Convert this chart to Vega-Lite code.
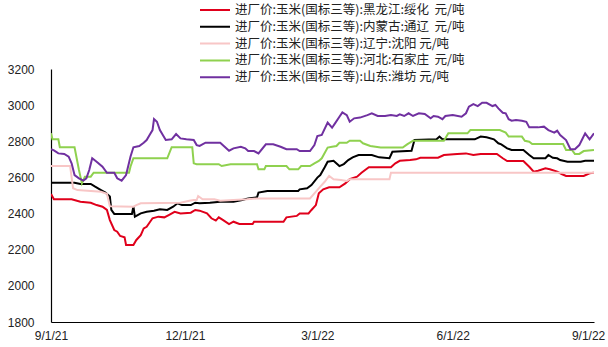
{
  "$schema": "https://vega.github.io/schema/vega-lite/v6.json",
  "width": 543,
  "height": 253,
  "autosize": "none",
  "padding": {"left": 51, "top": 69, "right": 14, "bottom": 25},
  "background": "white",
  "config": {"view": {"stroke": null}},
  "data": {"values": [
    {"d":"2021-09-01","s":"黑龙江:绥化","v":2508},{"d":"2021-09-03","s":"黑龙江:绥化","v":2479},{"d":"2021-09-15","s":"黑龙江:绥化","v":2479},{"d":"2021-09-21","s":"黑龙江:绥化","v":2466},{"d":"2021-09-28","s":"黑龙江:绥化","v":2460},{"d":"2021-10-02","s":"黑龙江:绥化","v":2447},{"d":"2021-10-06","s":"黑龙江:绥化","v":2438},{"d":"2021-10-09","s":"黑龙江:绥化","v":2420},{"d":"2021-10-11","s":"黑龙江:绥化","v":2364},{"d":"2021-10-14","s":"黑龙江:绥化","v":2309},{"d":"2021-10-16","s":"黑龙江:绥化","v":2300},{"d":"2021-10-18","s":"黑龙江:绥化","v":2276},{"d":"2021-10-21","s":"黑龙江:绥化","v":2269},{"d":"2021-10-22","s":"黑龙江:绥化","v":2226},{"d":"2021-10-27","s":"黑龙江:绥化","v":2226},{"d":"2021-10-29","s":"黑龙江:绥化","v":2254},{"d":"2021-11-01","s":"黑龙江:绥化","v":2281},{"d":"2021-11-03","s":"黑龙江:绥化","v":2318},{"d":"2021-11-05","s":"黑龙江:绥化","v":2327},{"d":"2021-11-09","s":"黑龙江:绥化","v":2374},{"d":"2021-11-13","s":"黑龙江:绥化","v":2383},{"d":"2021-11-17","s":"黑龙江:绥化","v":2379},{"d":"2021-11-20","s":"黑龙江:绥化","v":2392},{"d":"2021-11-24","s":"黑龙江:绥化","v":2410},{"d":"2021-11-28","s":"黑龙江:绥化","v":2401},{"d":"2021-12-05","s":"黑龙江:绥化","v":2405},{"d":"2021-12-08","s":"黑龙江:绥化","v":2420},{"d":"2021-12-11","s":"黑龙江:绥化","v":2416},{"d":"2021-12-16","s":"黑龙江:绥化","v":2401},{"d":"2021-12-19","s":"黑龙江:绥化","v":2374},{"d":"2021-12-22","s":"黑龙江:绥化","v":2361},{"d":"2021-12-24","s":"黑龙江:绥化","v":2379},{"d":"2021-12-27","s":"黑龙江:绥化","v":2364},{"d":"2021-12-31","s":"黑龙江:绥化","v":2342},{"d":"2022-01-03","s":"黑龙江:绥化","v":2355},{"d":"2022-01-07","s":"黑龙江:绥化","v":2342},{"d":"2022-01-16","s":"黑龙江:绥化","v":2342},{"d":"2022-01-17","s":"黑龙江:绥化","v":2355},{"d":"2022-02-06","s":"黑龙江:绥化","v":2355},{"d":"2022-02-08","s":"黑龙江:绥化","v":2379},{"d":"2022-02-15","s":"黑龙江:绥化","v":2387},{"d":"2022-02-17","s":"黑龙江:绥化","v":2401},{"d":"2022-02-23","s":"黑龙江:绥化","v":2401},{"d":"2022-02-25","s":"黑龙江:绥化","v":2420},{"d":"2022-02-28","s":"黑龙江:绥化","v":2447},{"d":"2022-03-02","s":"黑龙江:绥化","v":2512},{"d":"2022-03-05","s":"黑龙江:绥化","v":2534},{"d":"2022-03-09","s":"黑龙江:绥化","v":2545},{"d":"2022-03-16","s":"黑龙江:绥化","v":2545},{"d":"2022-03-20","s":"黑龙江:绥化","v":2567},{"d":"2022-03-23","s":"黑龙江:绥化","v":2590},{"d":"2022-03-28","s":"黑龙江:绥化","v":2604},{"d":"2022-03-31","s":"黑龙江:绥化","v":2626},{"d":"2022-04-05","s":"黑龙江:绥化","v":2656},{"d":"2022-04-20","s":"黑龙江:绥化","v":2656},{"d":"2022-04-23","s":"黑龙江:绥化","v":2678},{"d":"2022-04-26","s":"黑龙江:绥化","v":2692},{"d":"2022-05-03","s":"黑龙江:绥化","v":2696},{"d":"2022-05-07","s":"黑龙江:绥化","v":2700},{"d":"2022-05-10","s":"黑龙江:绥化","v":2709},{"d":"2022-05-22","s":"黑龙江:绥化","v":2709},{"d":"2022-05-26","s":"黑龙江:绥化","v":2724},{"d":"2022-06-04","s":"黑龙江:绥化","v":2730},{"d":"2022-06-10","s":"黑龙江:绥化","v":2733},{"d":"2022-06-15","s":"黑龙江:绥化","v":2724},{"d":"2022-06-20","s":"黑龙江:绥化","v":2730},{"d":"2022-07-01","s":"黑龙江:绥化","v":2730},{"d":"2022-07-05","s":"黑龙江:绥化","v":2706},{"d":"2022-07-08","s":"黑龙江:绥化","v":2691},{"d":"2022-07-19","s":"黑龙江:绥化","v":2691},{"d":"2022-07-23","s":"黑龙江:绥化","v":2659},{"d":"2022-07-26","s":"黑龙江:绥化","v":2632},{"d":"2022-07-29","s":"黑龙江:绥化","v":2637},{"d":"2022-08-03","s":"黑龙江:绥化","v":2650},{"d":"2022-08-06","s":"黑龙江:绥化","v":2645},{"d":"2022-08-11","s":"黑龙江:绥化","v":2632},{"d":"2022-08-14","s":"黑龙江:绥化","v":2619},{"d":"2022-08-17","s":"黑龙江:绥化","v":2608},{"d":"2022-08-29","s":"黑龙江:绥化","v":2608},{"d":"2022-09-02","s":"黑龙江:绥化","v":2623},{"d":"2022-09-05","s":"黑龙江:绥化","v":2626},

    {"d":"2021-09-01","s":"内蒙古:通辽","v":2571},{"d":"2021-09-17","s":"内蒙古:通辽","v":2571},{"d":"2021-09-21","s":"内蒙古:通辽","v":2564},{"d":"2021-09-28","s":"内蒙古:通辽","v":2564},{"d":"2021-10-01","s":"内蒙古:通辽","v":2549},{"d":"2021-10-05","s":"内蒙古:通辽","v":2530},{"d":"2021-10-08","s":"内蒙古:通辽","v":2516},{"d":"2021-10-11","s":"内蒙古:通辽","v":2494},{"d":"2021-10-12","s":"内蒙古:通辽","v":2420},{"d":"2021-10-14","s":"内蒙古:通辽","v":2398},{"d":"2021-10-26","s":"内蒙古:通辽","v":2398},{"d":"2021-10-27","s":"内蒙古:通辽","v":2440},{"d":"2021-10-28","s":"内蒙古:通辽","v":2383},{"d":"2021-10-29","s":"内蒙古:通辽","v":2387},{"d":"2021-11-01","s":"内蒙古:通辽","v":2401},{"d":"2021-11-05","s":"内蒙古:通辽","v":2410},{"d":"2021-11-10","s":"内蒙古:通辽","v":2416},{"d":"2021-11-14","s":"内蒙古:通辽","v":2424},{"d":"2021-11-19","s":"内蒙古:通辽","v":2420},{"d":"2021-11-23","s":"内蒙古:通辽","v":2438},{"d":"2021-11-26","s":"内蒙古:通辽","v":2457},{"d":"2021-11-29","s":"内蒙古:通辽","v":2447},{"d":"2021-12-05","s":"内蒙古:通辽","v":2447},{"d":"2021-12-08","s":"内蒙古:通辽","v":2460},{"d":"2021-12-11","s":"内蒙古:通辽","v":2457},{"d":"2021-12-18","s":"内蒙古:通辽","v":2460},{"d":"2021-12-25","s":"内蒙古:通辽","v":2466},{"d":"2022-01-03","s":"内蒙古:通辽","v":2466},{"d":"2022-01-09","s":"内蒙古:通辽","v":2475},{"d":"2022-01-13","s":"内蒙古:通辽","v":2484},{"d":"2022-01-19","s":"内蒙古:通辽","v":2490},{"d":"2022-01-20","s":"内蒙古:通辽","v":2516},{"d":"2022-01-26","s":"内蒙古:通辽","v":2525},{"d":"2022-02-16","s":"内蒙古:通辽","v":2525},{"d":"2022-02-17","s":"内蒙古:通辽","v":2534},{"d":"2022-02-22","s":"内蒙古:通辽","v":2540},{"d":"2022-02-25","s":"内蒙古:通辽","v":2558},{"d":"2022-03-01","s":"内蒙古:通辽","v":2599},{"d":"2022-03-03","s":"内蒙古:通辽","v":2613},{"d":"2022-03-06","s":"内蒙古:通辽","v":2656},{"d":"2022-03-08","s":"内蒙古:通辽","v":2687},{"d":"2022-03-12","s":"内蒙古:通辽","v":2692},{"d":"2022-03-16","s":"内蒙古:通辽","v":2663},{"d":"2022-03-19","s":"内蒙古:通辽","v":2674},{"d":"2022-03-22","s":"内蒙古:通辽","v":2696},{"d":"2022-03-25","s":"内蒙古:通辽","v":2711},{"d":"2022-03-29","s":"内蒙古:通辽","v":2724},{"d":"2022-04-07","s":"内蒙古:通辽","v":2724},{"d":"2022-04-12","s":"内蒙古:通辽","v":2711},{"d":"2022-04-19","s":"内蒙古:通辽","v":2706},{"d":"2022-04-21","s":"内蒙古:通辽","v":2742},{"d":"2022-05-04","s":"内蒙古:通辽","v":2748},{"d":"2022-05-06","s":"内蒙古:通辽","v":2807},{"d":"2022-05-21","s":"内蒙古:通辽","v":2811},{"d":"2022-05-23","s":"内蒙古:通辽","v":2826},{"d":"2022-05-25","s":"内蒙古:通辽","v":2811},{"d":"2022-06-16","s":"内蒙古:通辽","v":2811},{"d":"2022-06-20","s":"内蒙古:通辽","v":2826},{"d":"2022-06-24","s":"内蒙古:通辽","v":2822},{"d":"2022-06-29","s":"内蒙古:通辽","v":2811},{"d":"2022-07-02","s":"内蒙古:通辽","v":2789},{"d":"2022-07-04","s":"内蒙古:通辽","v":2783},{"d":"2022-07-08","s":"内蒙古:通辽","v":2761},{"d":"2022-07-11","s":"内蒙古:通辽","v":2752},{"d":"2022-07-19","s":"内蒙古:通辽","v":2752},{"d":"2022-07-23","s":"内蒙古:通辽","v":2724},{"d":"2022-07-26","s":"内蒙古:通辽","v":2706},{"d":"2022-08-03","s":"内蒙古:通辽","v":2706},{"d":"2022-08-05","s":"内蒙古:通辽","v":2724},{"d":"2022-08-08","s":"内蒙古:通辽","v":2709},{"d":"2022-08-11","s":"内蒙古:通辽","v":2706},{"d":"2022-08-13","s":"内蒙古:通辽","v":2696},{"d":"2022-08-18","s":"内蒙古:通辽","v":2687},{"d":"2022-08-27","s":"内蒙古:通辽","v":2687},{"d":"2022-08-30","s":"内蒙古:通辽","v":2692},{"d":"2022-09-05","s":"内蒙古:通辽","v":2692},

    {"d":"2021-09-01","s":"辽宁:沈阳","v":2663},{"d":"2021-09-14","s":"辽宁:沈阳","v":2663},{"d":"2021-09-16","s":"辽宁:沈阳","v":2540},{"d":"2021-09-19","s":"辽宁:沈阳","v":2530},{"d":"2021-10-05","s":"辽宁:沈阳","v":2521},{"d":"2021-10-09","s":"辽宁:沈阳","v":2510},{"d":"2021-10-11","s":"辽宁:沈阳","v":2440},{"d":"2021-10-27","s":"辽宁:沈阳","v":2438},{"d":"2021-10-29","s":"辽宁:沈阳","v":2447},{"d":"2021-11-01","s":"辽宁:沈阳","v":2457},{"d":"2021-11-28","s":"辽宁:沈阳","v":2460},{"d":"2021-12-04","s":"辽宁:沈阳","v":2471},{"d":"2021-12-07","s":"辽宁:沈阳","v":2475},{"d":"2021-12-09","s":"辽宁:沈阳","v":2475},{"d":"2021-12-10","s":"辽宁:沈阳","v":2497},{"d":"2021-12-13","s":"辽宁:沈阳","v":2479},{"d":"2021-12-21","s":"辽宁:沈阳","v":2479},{"d":"2021-12-25","s":"辽宁:沈阳","v":2471},{"d":"2022-01-12","s":"辽宁:沈阳","v":2479},{"d":"2022-01-19","s":"辽宁:沈阳","v":2484},{"d":"2022-02-24","s":"辽宁:沈阳","v":2484},{"d":"2022-02-27","s":"辽宁:沈阳","v":2512},{"d":"2022-03-03","s":"辽宁:沈阳","v":2549},{"d":"2022-03-06","s":"辽宁:沈阳","v":2576},{"d":"2022-03-09","s":"辽宁:沈阳","v":2608},{"d":"2022-03-12","s":"辽宁:沈阳","v":2590},{"d":"2022-03-17","s":"辽宁:沈阳","v":2586},{"d":"2022-03-21","s":"辽宁:沈阳","v":2580},{"d":"2022-03-23","s":"辽宁:沈阳","v":2590},{"d":"2022-04-19","s":"辽宁:沈阳","v":2590},{"d":"2022-04-20","s":"辽宁:沈阳","v":2626},{"d":"2022-09-05","s":"辽宁:沈阳","v":2626},

    {"d":"2021-09-01","s":"河北:石家庄","v":2844},{"d":"2021-09-02","s":"河北:石家庄","v":2811},{"d":"2021-09-06","s":"河北:石家庄","v":2811},{"d":"2021-09-07","s":"河北:石家庄","v":2767},{"d":"2021-09-17","s":"河北:石家庄","v":2767},{"d":"2021-09-20","s":"河北:石家庄","v":2641},{"d":"2021-09-22","s":"河北:石家庄","v":2567},{"d":"2021-09-24","s":"河北:石家庄","v":2604},{"d":"2021-09-28","s":"河北:石家庄","v":2604},{"d":"2021-09-30","s":"河北:石家庄","v":2626},{"d":"2021-10-24","s":"河北:石家庄","v":2626},{"d":"2021-10-25","s":"河北:石家庄","v":2659},{"d":"2021-10-27","s":"河北:石家庄","v":2706},{"d":"2021-11-19","s":"河北:石家庄","v":2706},{"d":"2021-11-22","s":"河北:石家庄","v":2767},{"d":"2021-12-06","s":"河北:石家庄","v":2767},{"d":"2021-12-07","s":"河北:石家庄","v":2678},{"d":"2021-12-09","s":"河北:石家庄","v":2673},{"d":"2021-12-24","s":"河北:石家庄","v":2673},{"d":"2021-12-26","s":"河北:石家庄","v":2663},{"d":"2022-01-01","s":"河北:石家庄","v":2673},{"d":"2022-01-19","s":"河北:石家庄","v":2673},{"d":"2022-01-20","s":"河北:石家庄","v":2645},{"d":"2022-01-24","s":"河北:石家庄","v":2645},{"d":"2022-01-25","s":"河北:石家庄","v":2663},{"d":"2022-02-08","s":"河北:石家庄","v":2663},{"d":"2022-02-10","s":"河北:石家庄","v":2645},{"d":"2022-02-16","s":"河北:石家庄","v":2645},{"d":"2022-02-18","s":"河北:石家庄","v":2663},{"d":"2022-02-24","s":"河北:石家庄","v":2663},{"d":"2022-02-27","s":"河北:石家庄","v":2678},{"d":"2022-03-02","s":"河北:石家庄","v":2691},{"d":"2022-03-04","s":"河北:石家庄","v":2706},{"d":"2022-03-08","s":"河北:石家庄","v":2765},{"d":"2022-03-11","s":"河北:石家庄","v":2770},{"d":"2022-03-14","s":"河北:石家庄","v":2774},{"d":"2022-03-16","s":"河北:石家庄","v":2792},{"d":"2022-03-21","s":"河北:石家庄","v":2792},{"d":"2022-03-23","s":"河北:石家庄","v":2803},{"d":"2022-03-30","s":"河北:石家庄","v":2803},{"d":"2022-04-01","s":"河北:石家庄","v":2789},{"d":"2022-04-06","s":"河北:石家庄","v":2774},{"d":"2022-04-13","s":"河北:石家庄","v":2765},{"d":"2022-04-28","s":"河北:石家庄","v":2765},{"d":"2022-05-01","s":"河北:石家庄","v":2783},{"d":"2022-05-05","s":"河北:石家庄","v":2803},{"d":"2022-05-26","s":"河北:石家庄","v":2803},{"d":"2022-05-29","s":"河北:石家庄","v":2844},{"d":"2022-06-11","s":"河北:石家庄","v":2844},{"d":"2022-06-13","s":"河北:石家庄","v":2862},{"d":"2022-07-03","s":"河北:石家庄","v":2862},{"d":"2022-07-07","s":"河北:石家庄","v":2848},{"d":"2022-07-09","s":"河北:石家庄","v":2826},{"d":"2022-07-18","s":"河北:石家庄","v":2826},{"d":"2022-07-20","s":"河北:石家庄","v":2803},{"d":"2022-07-23","s":"河北:石家庄","v":2798},{"d":"2022-07-25","s":"河北:石家庄","v":2785},{"d":"2022-08-15","s":"河北:石家庄","v":2785},{"d":"2022-08-17","s":"河北:石家庄","v":2752},{"d":"2022-08-21","s":"河北:石家庄","v":2752},{"d":"2022-08-23","s":"河北:石家庄","v":2730},{"d":"2022-08-26","s":"河北:石家庄","v":2730},{"d":"2022-08-29","s":"河北:石家庄","v":2746},{"d":"2022-09-05","s":"河北:石家庄","v":2752},

    {"d":"2021-09-01","s":"山东:潍坊","v":2756},{"d":"2021-09-03","s":"山东:潍坊","v":2750},{"d":"2021-09-06","s":"山东:潍坊","v":2733},{"d":"2021-09-10","s":"山东:潍坊","v":2730},{"d":"2021-09-13","s":"山东:潍坊","v":2715},{"d":"2021-09-15","s":"山东:潍坊","v":2678},{"d":"2021-09-17","s":"山东:潍坊","v":2613},{"d":"2021-09-20","s":"山东:潍坊","v":2595},{"d":"2021-09-23","s":"山东:潍坊","v":2582},{"d":"2021-09-25","s":"山东:潍坊","v":2595},{"d":"2021-09-27","s":"山东:潍坊","v":2641},{"d":"2021-09-29","s":"山东:潍坊","v":2706},{"d":"2021-10-02","s":"山东:潍坊","v":2687},{"d":"2021-10-06","s":"山东:潍坊","v":2659},{"d":"2021-10-09","s":"山东:潍坊","v":2626},{"d":"2021-10-14","s":"山东:潍坊","v":2626},{"d":"2021-10-16","s":"山东:潍坊","v":2595},{"d":"2021-10-19","s":"山东:潍坊","v":2582},{"d":"2021-10-22","s":"山东:潍坊","v":2613},{"d":"2021-10-25","s":"山东:潍坊","v":2715},{"d":"2021-10-27","s":"山东:潍坊","v":2767},{"d":"2021-10-31","s":"山东:潍坊","v":2774},{"d":"2021-11-03","s":"山东:潍坊","v":2792},{"d":"2021-11-05","s":"山东:潍坊","v":2807},{"d":"2021-11-07","s":"山东:潍坊","v":2835},{"d":"2021-11-09","s":"山东:潍坊","v":2862},{"d":"2021-11-10","s":"山东:潍坊","v":2923},{"d":"2021-11-12","s":"山东:潍坊","v":2908},{"d":"2021-11-14","s":"山东:潍坊","v":2862},{"d":"2021-11-18","s":"山东:潍坊","v":2807},{"d":"2021-11-22","s":"山东:潍坊","v":2811},{"d":"2021-11-25","s":"山东:潍坊","v":2840},{"d":"2021-11-28","s":"山东:潍坊","v":2816},{"d":"2021-12-02","s":"山东:潍坊","v":2811},{"d":"2021-12-07","s":"山东:潍坊","v":2807},{"d":"2021-12-09","s":"山东:潍坊","v":2779},{"d":"2021-12-11","s":"山东:潍坊","v":2774},{"d":"2021-12-15","s":"山东:潍坊","v":2792},{"d":"2021-12-25","s":"山东:潍坊","v":2792},{"d":"2021-12-28","s":"山东:潍坊","v":2770},{"d":"2021-12-31","s":"山东:潍坊","v":2748},{"d":"2022-01-03","s":"山东:潍坊","v":2761},{"d":"2022-01-08","s":"山东:潍坊","v":2770},{"d":"2022-01-11","s":"山东:潍坊","v":2761},{"d":"2022-01-13","s":"山东:潍坊","v":2746},{"d":"2022-01-17","s":"山东:潍坊","v":2746},{"d":"2022-01-20","s":"山东:潍坊","v":2733},{"d":"2022-01-25","s":"山东:潍坊","v":2783},{"d":"2022-01-30","s":"山东:潍坊","v":2783},{"d":"2022-02-04","s":"山东:潍坊","v":2770},{"d":"2022-02-08","s":"山东:潍坊","v":2756},{"d":"2022-02-15","s":"山东:潍坊","v":2756},{"d":"2022-02-17","s":"山东:潍坊","v":2746},{"d":"2022-02-24","s":"山东:潍坊","v":2746},{"d":"2022-02-27","s":"山东:潍坊","v":2779},{"d":"2022-03-01","s":"山东:潍坊","v":2829},{"d":"2022-03-04","s":"山东:潍坊","v":2835},{"d":"2022-03-08","s":"山东:潍坊","v":2903},{"d":"2022-03-11","s":"山东:潍坊","v":2875},{"d":"2022-03-13","s":"山东:潍坊","v":2899},{"d":"2022-03-16","s":"山东:潍坊","v":2936},{"d":"2022-03-18","s":"山东:潍坊","v":2960},{"d":"2022-03-21","s":"山东:潍坊","v":2945},{"d":"2022-03-23","s":"山东:潍坊","v":2908},{"d":"2022-03-26","s":"山东:潍坊","v":2927},{"d":"2022-03-30","s":"山东:潍坊","v":2931},{"d":"2022-04-04","s":"山东:潍坊","v":2945},{"d":"2022-04-07","s":"山东:潍坊","v":2955},{"d":"2022-04-11","s":"山东:潍坊","v":2940},{"d":"2022-04-16","s":"山东:潍坊","v":2940},{"d":"2022-04-20","s":"山东:潍坊","v":2945},{"d":"2022-04-24","s":"山东:潍坊","v":2940},{"d":"2022-04-26","s":"山东:潍坊","v":2949},{"d":"2022-04-29","s":"山东:潍坊","v":2940},{"d":"2022-05-02","s":"山东:潍坊","v":2955},{"d":"2022-05-05","s":"山东:潍坊","v":2940},{"d":"2022-05-09","s":"山东:潍坊","v":2955},{"d":"2022-05-13","s":"山东:潍坊","v":2951},{"d":"2022-05-17","s":"山东:潍坊","v":2927},{"d":"2022-05-19","s":"山东:潍坊","v":2940},{"d":"2022-05-22","s":"山东:潍坊","v":2936},{"d":"2022-05-25","s":"山东:潍坊","v":2922},{"d":"2022-05-27","s":"山东:潍坊","v":2940},{"d":"2022-06-01","s":"山东:潍坊","v":2945},{"d":"2022-06-07","s":"山东:潍坊","v":2936},{"d":"2022-06-10","s":"山东:潍坊","v":2955},{"d":"2022-06-12","s":"山东:潍坊","v":2992},{"d":"2022-06-15","s":"山东:潍坊","v":3006},{"d":"2022-06-18","s":"山东:潍坊","v":2995},{"d":"2022-06-21","s":"山东:潍坊","v":3013},{"d":"2022-06-24","s":"山东:潍坊","v":3013},{"d":"2022-06-28","s":"山东:潍坊","v":2995},{"d":"2022-06-30","s":"山东:潍坊","v":3001},{"d":"2022-07-02","s":"山东:潍坊","v":2982},{"d":"2022-07-05","s":"山东:潍坊","v":2958},{"d":"2022-07-07","s":"山东:潍坊","v":2955},{"d":"2022-07-09","s":"山东:潍坊","v":2922},{"d":"2022-07-11","s":"山东:潍坊","v":2914},{"d":"2022-07-14","s":"山东:潍坊","v":2918},{"d":"2022-07-18","s":"山东:潍坊","v":2914},{"d":"2022-07-21","s":"山东:潍坊","v":2908},{"d":"2022-07-23","s":"山东:潍坊","v":2877},{"d":"2022-07-29","s":"山东:潍坊","v":2877},{"d":"2022-08-02","s":"山东:潍坊","v":2881},{"d":"2022-08-05","s":"山东:潍坊","v":2862},{"d":"2022-08-09","s":"山东:潍坊","v":2848},{"d":"2022-08-11","s":"山东:潍坊","v":2859},{"d":"2022-08-13","s":"山东:潍坊","v":2835},{"d":"2022-08-17","s":"山东:潍坊","v":2807},{"d":"2022-08-20","s":"山东:潍坊","v":2756},{"d":"2022-08-23","s":"山东:潍坊","v":2756},{"d":"2022-08-26","s":"山东:潍坊","v":2779},{"d":"2022-08-28","s":"山东:潍坊","v":2811},{"d":"2022-08-30","s":"山东:潍坊","v":2844},{"d":"2022-09-02","s":"山东:潍坊","v":2811},{"d":"2022-09-05","s":"山东:潍坊","v":2844}
  ]},
  "mark": {"type": "line", "strokeWidth": 2, "clip": true},
  "encoding": {
    "x": {
      "field": "d", "type": "temporal", "title": null,
      "scale": {"type": "utc", "domain": [{"year": 2021, "month": 9, "date": 1, "utc": true}, {"year": 2022, "month": 9, "date": 5, "utc": true}]},
      "axis": {
        "values": [{"year": 2021, "month": 9, "date": 1, "utc": true}, {"year": 2021, "month": 12, "date": 1, "utc": true}, {"year": 2022, "month": 3, "date": 1, "utc": true}, {"year": 2022, "month": 6, "date": 1, "utc": true}, {"year": 2022, "month": 9, "date": 1, "utc": true}],
        "labelExpr": "utcFormat(datum.value, '%-m/%-d/%y')",
        "grid": false, "ticks": false, "tickSize": 0, "labelPadding": 8,
        "labelFont": "Liberation Sans", "labelFontSize": 12, "labelColor": "#222",
        "domainColor": "#000", "domainWidth": 1.2, "labelFlush": false, "labelOverlap": false
      }
    },
    "y": {
      "field": "v", "type": "quantitative", "title": null,
      "scale": {"domain": [1800, 3200], "nice": false, "zero": false},
      "axis": {
        "values": [1800, 2000, 2200, 2400, 2600, 2800, 3000, 3200],
        "format": "d",
        "grid": false, "ticks": false, "tickSize": 0, "labelPadding": 17,
        "labelFont": "Liberation Sans", "labelFontSize": 12, "labelColor": "#222",
        "domainColor": "#000", "domainWidth": 1.2
      }
    },
    "color": {
      "field": "s", "type": "nominal",
      "scale": {
        "domain": ["黑龙江:绥化", "内蒙古:通辽", "辽宁:沈阳", "河北:石家庄", "山东:潍坊"],
        "range": ["#E0001B", "#000000", "#F8C6C6", "#8FD14F", "#7030A0"]
      },
      "legend": {
        "title": null, "orient": "none", "legendX": 148, "legendY": -67,
        "symbolType": "stroke", "symbolSize": 900, "symbolStrokeWidth": 2,
        "clipHeight": 16, "rowPadding": 0.8, "padding": 0,
        "labelFont": "Noto Sans CJK SC", "labelFontSize": 12.5, "labelColor": "#222", "labelOffset": 4,
        "labelLimit": 400,
        "labelExpr": "'进厂价:玉米(国标三等):' + datum.label + ((datum.label == '辽宁:沈阳' || datum.label == '山东:潍坊') ? ' 元/吨' : '\u00a0 元/吨')"
      }
    }
  }
}
